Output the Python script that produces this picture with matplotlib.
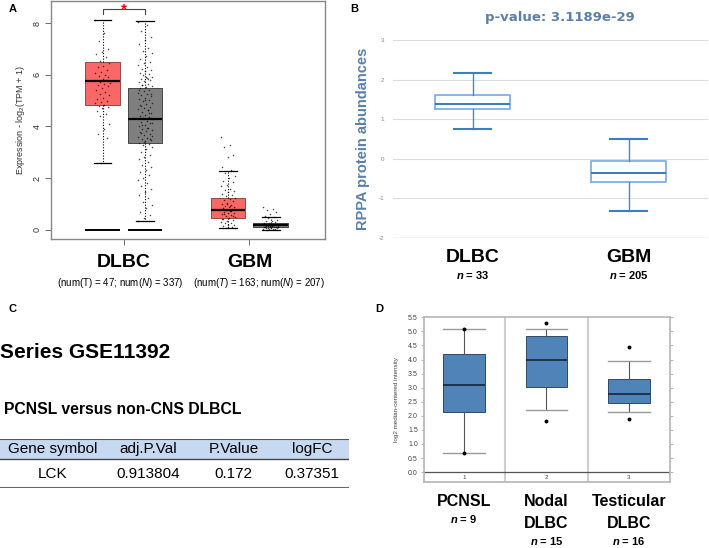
import numpy as np
import matplotlib.pyplot as plt

plt.rcParams['font.family'] = ['Liberation Sans', 'DejaVu Sans']
plt.rcParams['mathtext.fontset'] = 'custom'
plt.rcParams['mathtext.rm'] = 'Liberation Sans'
plt.rcParams['mathtext.it'] = 'Liberation Sans:italic'
plt.rcParams['mathtext.bf'] = 'Liberation Sans:bold:italic'

# ---- panel A: GEPIA expression (box stats) ----
a_groups = ["DLBC", "GBM"]
a_counts = ["(num(T) = 47; num($\\it{N}$) = 337)", "(num($\\it{T}$) = 163; num($\\it{N}$) = 207)"]
# whislo, q1, median, q3, whishi for tumor / normal
a_tumor = [[2.58, 4.85, 5.75, 6.50, 8.10], [0.08, 0.45, 0.75, 1.22, 2.28]]
a_normal = [[0.35, 3.35, 4.30, 5.50, 8.08], [0.00, 0.10, 0.17, 0.25, 0.50]]
dlbc_t_pts = [8.1, 7.6, 7.3, 7.0, 6.9, 6.8, 6.7, 6.55, 6.45, 6.35, 6.3, 6.2, 6.1, 6.05,
              6.0, 5.95, 5.9, 5.85, 5.8, 5.78, 5.72, 5.7, 5.65, 5.6, 5.55, 5.5, 5.4,
              5.35, 5.25, 5.2, 5.1, 5.05, 5.0, 4.95, 4.9, 4.85, 4.8, 4.75, 4.7, 4.6,
              4.5, 4.4, 4.1, 3.9, 3.7, 3.55, 2.58]
dlbc_n_pts = [8.05, 7.92, 7.71, 7.48, 7.33, 7.18, 7.02, 6.91, 6.83, 6.71, 6.62, 6.5,
              6.44, 6.38, 6.31, 6.24, 6.19, 6.13, 6.08, 6.02, 5.98, 5.93, 5.88, 5.84,
              5.79, 5.76, 5.71, 5.66, 5.61, 5.57, 5.52, 5.47, 5.41, 5.36, 5.31, 5.27,
              5.22, 5.16, 5.11, 5.06, 5.01, 4.97, 4.92, 4.86, 4.81, 4.76, 4.71, 4.67,
              4.62, 4.56, 4.51, 4.46, 4.42, 4.37, 4.31, 4.27, 4.22, 4.16, 4.12, 4.07,
              4.02, 3.96, 3.92, 3.87, 3.81, 3.77, 3.72, 3.66, 3.61, 3.57, 3.51, 3.46,
              3.42, 3.37, 3.33, 3.28, 3.21, 3.12, 3.03, 2.91, 2.82, 2.73, 2.61, 2.52,
              2.43, 2.31, 2.22, 2.11, 2.02, 1.93, 1.82, 1.71, 1.58, 1.47, 1.36, 1.22,
              1.08, 0.96, 0.83, 0.71, 0.58, 0.45, 0.35, 5.83, 5.62, 5.24, 5.03, 4.83,
              4.53, 4.33, 4.13, 3.94, 3.74, 3.53, 3.41, 5.43, 4.64, 4.04, 3.63, 5.92]
gbm_t_pts = [3.6, 3.3, 3.2, 2.9, 2.8, 2.45, 2.3, 2.2, 2.1, 2.0, 1.9, 1.85, 1.75, 1.7,
             1.6, 1.55, 1.5, 1.45, 1.4, 1.35, 1.3, 1.25, 1.2, 1.15, 1.1, 1.05, 1.0,
             0.97, 0.93, 0.9, 0.87, 0.84, 0.8, 0.78, 0.75, 0.72, 0.7, 0.67, 0.64, 0.6,
             0.57, 0.54, 0.5, 0.47, 0.44, 0.4, 0.36, 0.32, 0.28, 0.25, 0.2, 0.17, 0.14,
             0.1, 0.08, 0.06, 0.92, 0.62, 0.52, 1.02, 0.41, 0.73]
gbm_n_pts = [0.9, 0.82, 0.75, 0.7, 0.62, 0.55, 0.5, 0.45, 0.4, 0.36, 0.33, 0.3, 0.28,
             0.26, 0.24, 0.22, 0.21, 0.2, 0.19, 0.18, 0.17, 0.16, 0.15, 0.14, 0.13,
             0.12, 0.11, 0.1, 0.09, 0.08, 0.07, 0.06, 0.05, 0.04, 0.03, 0.02, 0.01,
             0.18, 0.15, 0.12, 0.2, 0.14, 0.11, 0.16]

# ---- panel B: RPPA ----
b_groups = ["DLBC", "GBM"]
b_n = [33, 205]
b_stats = [[0.76, 1.25, 1.37, 1.62, 2.17], [-1.33, -0.58, -0.35, -0.07, 0.49]]
b_pvalue = "p-value: 3.1189e-29"

# ---- panel C: table ----
c_series = "Series GSE11392"
c_comparison = "PCNSL versus non-CNS DLBCL"
c_columns = ["Gene symbol", "adj.P.Val", "P.Value", "logFC"]
c_row = ["LCK", "0.913804", "0.172", "0.37351"]

# ---- panel D: Oncomine ----
d_groups = ["PCNSL", "Nodal\nDLBC", "Testicular\nDLBC"]
d_n = [9, 15, 16]
d_stats = [[0.68, 2.12, 3.10, 4.20, 5.10], [2.22, 3.02, 4.00, 4.82, 5.10],
           [2.15, 2.45, 2.78, 3.32, 3.95]]
d_fliers = [[5.10, 0.68], [5.28, 1.80], [4.45, 1.88]]


def to_bxp(s, fliers=()):
    return dict(whislo=s[0], q1=s[1], med=s[2], q3=s[3], whishi=s[4], fliers=list(fliers))


fig = plt.figure(figsize=(7.09, 5.48), dpi=100)

# ================= A =================
axA = fig.add_axes([0.072, 0.564, 0.386, 0.434])
off = 0.17
pos_t = [1 - off, 2 - off]
pos_n = [1 + off, 2 + off]
common = dict(widths=0.275, capwidths=0.14, showfliers=False, patch_artist=True,
              whiskerprops=dict(color='black', lw=0.8, ls=(0, (1, 1.5))),
              capprops=dict(color='black', lw=0.9),
              medianprops=dict(color='black', lw=1.6), manage_ticks=False)
axA.bxp([to_bxp(s) for s in a_tumor], positions=pos_t,
        boxprops=dict(facecolor='#f96766', edgecolor='#7a3a3a', lw=0.6), **common)
axA.bxp([to_bxp(s) for s in a_normal], positions=pos_n,
        boxprops=dict(facecolor='#7f7f7f', edgecolor='#333333', lw=0.6), **common)
# zero lines drawn under the DLBC boxes
axA.hlines([0, 0], [pos_t[0] - 0.137, pos_n[0] - 0.137], [pos_t[0] + 0.137, pos_n[0] + 0.137],
           color='black', lw=1.4)
for x0, pts in zip(pos_t + pos_n, [dlbc_t_pts, gbm_t_pts, dlbc_n_pts, gbm_n_pts]):
    pts = np.asarray(pts)
    jit = ((np.arange(len(pts)) * 0.618) % 1 - 0.5) * 0.12
    axA.scatter(x0 + jit, pts, s=1.2, color='black', alpha=0.7, lw=0, zorder=3)
# significance bracket
axA.plot([pos_t[0], pos_t[0], pos_n[0], pos_n[0]], [8.35, 8.55, 8.55, 8.35], color='#444444', lw=0.8)
axA.text(1.0, 8.52, "*", color='red', ha='center', va='center', fontsize=11, fontweight='bold')
axA.set_xlim(0.42, 2.6)
axA.set_ylim(-0.35, 8.85)
axA.set_yticks([0, 2, 4, 6, 8])
axA.set_yticklabels(["0", "2", "4", "6", "8"], rotation=90, va='center', fontsize=6.5, color='#333333')
axA.set_xticks([1, 2])
axA.set_xticklabels([])
axA.tick_params(length=4, width=0.6, color='#555555', pad=3)
for sp in axA.spines.values():
    sp.set_color('#888888')
    sp.set_linewidth(1.0)
axA.set_ylabel("Expression - log$_2$(TPM + 1)", fontsize=6.5, color='#333333', labelpad=4)
trA = axA.get_xaxis_transform()
for i, (g, c) in enumerate(zip(a_groups, a_counts)):
    axA.text(1 + i, -0.10, g, transform=trA, ha='center', va='center', fontsize=14, fontweight='bold')
    axA.text(0.975 + i * 1.1, -0.185, c, transform=trA, ha='center', va='center', fontsize=7.0)

# ================= B =================
axB = fig.add_axes([0.554, 0.566, 0.444, 0.361])
axB.bxp([to_bxp(s) for s in b_stats], positions=[1, 2], widths=0.48, capwidths=0.24,
        showfliers=False, manage_ticks=False,
        boxprops=dict(color='#7fb0e3', lw=1.3),
        whiskerprops=dict(color='#4a86c8', lw=1.0),
        capprops=dict(color='#3f7cc2', lw=1.5),
        medianprops=dict(color='#3a78c0', lw=1.4))
axB.set_xlim(0.487, 2.506)
axB.set_ylim(-2, 3)
axB.set_yticks([-2, -1, 0, 1, 2, 3])
axB.set_yticklabels(["-2", "-1", "0", "1", "2", "3"], fontsize=4.5, color='#888888')
axB.set_xticks([])
axB.tick_params(length=0, pad=6)
axB.grid(axis='y', color='#dcdcdc', lw=0.8)
axB.set_axisbelow(True)
for sp in axB.spines.values():
    sp.set_visible(False)
axB.axhline(-2, color='#cfcfcf', lw=1.0)
axB.set_ylabel("RPPA protein abundances", fontsize=10.5, color='#5b80a8', fontweight='bold')
axB.yaxis.set_label_coords(-0.073, 0.5)
axB.text(0.53, 1.116, b_pvalue, transform=axB.transAxes, ha='center', va='center',
         fontsize=9.5, fontweight='bold', color='#5b80a8', family='DejaVu Sans')
trB = axB.get_xaxis_transform()
for i, (g, n) in enumerate(zip(b_groups, b_n)):
    axB.text(1 + i, -0.10, g, transform=trB, ha='center', va='center', fontsize=14, fontweight='bold')
    axB.text(1 + i, -0.19, "$\\mathbf{n}$ = %d" % n, transform=trB, ha='center', va='center',
             fontsize=8, fontweight='bold')

# ================= C =================
fig.text(0.012, 0.436, "C", fontsize=8, fontweight='bold', va='center')
fig.text(0.0, 0.356, c_series, fontsize=15, fontweight='bold', va='center')
fig.text(0.006, 0.252, c_comparison, fontsize=11.3, fontweight='bold', va='center')
axC = fig.add_axes([0.0, 0.109, 0.492, 0.0894])
axC.set_xlim(0, len(c_columns))
axC.set_ylim(0, 1)
axC.axis('off')
hdr = 0.59
axC.axhspan(hdr, 1, color='#c6d9f1', lw=0)
axC.axhline(1, color='#555555', lw=1.5)
axC.axhline(hdr, color='#444444', lw=1.0)
axC.axhline(0, color='#666666', lw=1.5)
col_x = [0.6, 1.7, 2.68, 3.58]
for x, h, v in zip(col_x, c_columns, c_row):
    axC.text(x, (1 + hdr) / 2, h, ha='center', va='center', fontsize=11)
    axC.text(x, hdr / 2, v, ha='center', va='center', fontsize=11)

# ================= D =================
axD = fig.add_axes([0.598, 0.120, 0.347, 0.301])
axD.bxp([to_bxp(s, f) for s, f in zip(d_stats, d_fliers)], positions=[1, 2, 3], widths=0.5,
        capwidths=0.5, patch_artist=True, manage_ticks=False,
        boxprops=dict(facecolor='#5083b7', edgecolor='#2e4a66', lw=0.7),
        whiskerprops=dict(color='#555555', lw=0.8),
        capprops=dict(color='#999999', lw=1.0),
        medianprops=dict(color='#0e1c2c', lw=1.1),
        flierprops=dict(marker='o', markersize=1.8, markerfacecolor='black',
                        markeredgecolor='black'))
axD.set_xlim(0.515, 3.497)
axD.set_ylim(-0.36, 5.5)
yt = np.arange(0, 5.51, 0.5)
axD.set_yticks(yt)
axD.set_yticklabels(["%.1f" % v for v in yt], fontsize=5, color='#444444')
axD.tick_params(axis='y', length=2.5, width=0.5, color='#999999', pad=2, right=True)
axD.set_xticks([])
for sp in axD.spines.values():
    sp.set_color('#b5b5b5')
    sp.set_linewidth(1.2)
axD.axhline(0, color='#555555', lw=0.9)
for xs in [1.5, 2.5]:
    axD.axvline(xs, color='#cfcfcf', lw=1.5, zorder=0)
for i in range(3):
    axD.text(i + 1, -0.19, str(i + 1), ha='center', va='center', fontsize=4.5, color='#444444')
axD.set_ylabel("log2 median-centered intensity", fontsize=4.5, color='#444444')
axD.yaxis.set_label_coords(-0.10, 0.5)
trD = axD.get_xaxis_transform()
for i, (g, n) in enumerate(zip(d_groups, d_n)):
    lines = g.split("\n")
    axD.text(1 + i, -0.115, lines[0], transform=trD, ha='center', va='center',
             fontsize=11.5, fontweight='bold')
    if len(lines) > 1:
        axD.text(1 + i, -0.25, lines[1], transform=trD, ha='center', va='center',
                 fontsize=11.5, fontweight='bold')
        ny = -0.355
    else:
        ny = -0.22
    axD.text(1 + i, ny, "$\\mathbf{n}$ = %d" % n, transform=trD, ha='center', va='center',
             fontsize=8, fontweight='bold')

# panel letters
fig.text(0.012, 0.984, "A", fontsize=8, fontweight='bold', va='center')
fig.text(0.494, 0.984, "B", fontsize=8, fontweight='bold', va='center')
fig.text(0.529, 0.436, "D", fontsize=8, fontweight='bold', va='center')

fig.savefig("out.png", dpi=100)
